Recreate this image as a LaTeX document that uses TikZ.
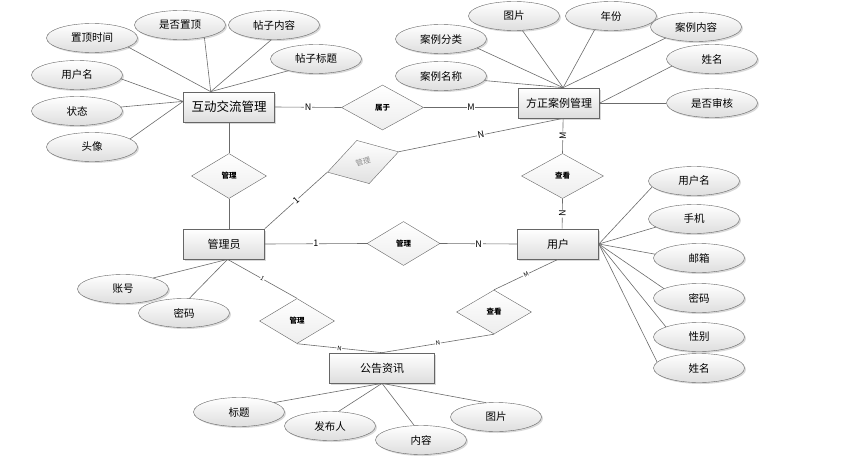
\documentclass[tikz,border=0pt]{standalone}
\usepackage{fontspec}
\newfontfamily\cjk{Noto Sans CJK SC}
\usetikzlibrary{shapes.geometric,shadows}

\begin{document}
\begin{tikzpicture}[x=1pt, y=-1pt,
    line/.style={draw=black!58, line width=0.6pt},
    shade/.style={top color=white, bottom color=black!13,
      drop shadow={opacity=0.3, shadow xshift=1.5pt, shadow yshift=-1.5pt}},
    attr/.style={ellipse, draw=black!60, shade, minimum width=91pt, minimum height=29pt,
      inner sep=0pt, font=\cjk\fontsize{10.5}{12}\selectfont},
    entity/.style={rectangle, draw=black!60, line width=0.7pt, shade, minimum width=81pt,
      minimum height=30pt, inner sep=0pt, font=\cjk\fontsize{11}{13}\selectfont},
    rel/.style={diamond, draw=black!60, top color=white, bottom color=black!7,
      minimum width=75pt, minimum height=45pt, inner sep=0pt,
      font=\cjk\bfseries\fontsize{7.5}{9}\selectfont},
    card/.style={fill=white, inner sep=0.6pt, font=\cjk\fontsize{9}{10}\selectfont},
    smallcard/.style={card, font=\cjk\fontsize{6}{7}\selectfont}
  ]
  \useasboundingbox (0,0) rectangle (861,460);

  % entities
  \node[entity, minimum width=91pt, font=\cjk\fontsize{12.5}{14}\selectfont] (hd) at (229,107) {互动交流管理};
  \node[entity] (fz) at (559,103) {方正案例管理};
  \node[entity] (gly) at (224,244) {管理员};
  \node[entity] (yh) at (558,244) {用户};
  \node[entity, minimum width=105pt] (gg) at (382,368) {公告资讯};

  % relations
  \node[rel, minimum width=82pt] (sy) at (382.5,107.5) {属于};
  \node[rel] (gl1) at (229,176) {管理};
  \node[rel, minimum width=74pt, rotate=16, text=black!45, font=\cjk\fontsize{7.5}{9}\selectfont,
    bottom color=black!12] (gl2) at (363,162) {管理};
  \node[rel, minimum width=73pt, minimum height=44pt] (gl3) at (403.5,243.5) {管理};
  \node[rel] (gl4) at (297,321) {管理};
  \node[rel, minimum width=82pt] (ck1) at (562.5,176) {查看};
  \node[rel, minimum height=44pt] (ck2) at (494,312) {查看};

  % attributes of 互动交流管理
  \node[attr] (zdsj) at (92,38) {置顶时间};
  \node[attr] (sfzd) at (180,25) {是否置顶};
  \node[attr] (tznr) at (274,25) {帖子内容};
  \node[attr] (tzbt) at (316,59) {帖子标题};
  \node[attr] (hdyhm) at (77,75) {用户名};
  \node[attr] (zt) at (77,111) {状态};
  \node[attr] (tx) at (92,147) {头像};
  \draw[line] (zdsj.-14) -- (hd.140);
  \draw[line] (sfzd.-27) -- (hd.140);
  \draw[line] (tznr.-100) -- (hd.140);
  \draw[line] (tzbt.-157) -- (hd.140);
  \draw[line] (hdyhm.-5) -- (hd.173);
  \draw[line] (zt) -- (hd.173);
  \draw[line] (tx.12) -- (hd.173);

  % attributes of 方正案例管理
  \node[attr] (tp1) at (514,16) {图片};
  \node[attr] (nf) at (611,16) {年份};
  \node[attr] (alnr) at (696,27) {案例内容};
  \node[attr] (alfl) at (441,39) {案例分类};
  \node[attr] (almc) at (441,76) {案例名称};
  \node[attr] (xm1) at (712,59) {姓名};
  \node[attr] (sfsh) at (712,103) {是否审核};
  \foreach \a/\ang in {tp1/-60, nf/-140, alnr/-160, alfl/-14, almc/-6}{
    \draw[line] (\a.\ang) -- (fz.75);
  }
  \draw[line] (xm1.-170) -- (fz.east);
  \draw[line] (sfsh.west) -- (fz.east);

  % attributes of 用户
  \foreach \a/\t/\px/\py/\ang in {yhm/用户名/694/181/-172, sj/手机/694/219/-168,
      yx/邮箱/699/258/175, mm/密码/699/298/165, xb/性别/699/337/163, xm2/姓名/699/368/172}{
    \node[attr] (\a) at (\px,\py) {\t};
    \draw[line] (\a.\ang) -- (yh.east);
  }

  % attributes of 管理员
  \node[attr] (zh) at (123,289) {账号};
  \node[attr] (glymm) at (184,313) {密码};
  \draw[line] (zh.20) -- (gly.-77);
  \draw[line] (glymm.70) -- (gly.-77);

  % attributes of 公告资讯
  \node[attr] (bt) at (239,412) {标题};
  \node[attr] (fbr) at (330,426) {发布人};
  \node[attr] (nr) at (421,440) {内容};
  \node[attr] (tp2) at (496,417) {图片};
  \draw[line] (bt.15) -- (gg.south);
  \draw[line] (fbr.60) -- (gg.south);
  \draw[line] (nr.115) -- (gg.south);
  \draw[line] (tp2.125) -- (gg.south);

  % relationships
  \draw[line] (hd.east) -- (sy.west) node[card, midway] {N};
  \draw[line] (sy.east) -- (fz.west |- sy.east) node[card, midway] {M};
  \draw[line] (hd.south) -- (gl1.north);
  \draw[line] (gl1.south) -- (gl1.south |- gly.north);
  \draw[line] (gly.north east) -- (gl2.west) node[card, midway, sloped] {1};
  \draw[line] (gl2.east) -- (fz.-75) node[card, midway, sloped] {N};
  \draw[line] (fz.-75) -- (ck1.north) node[card, midway, sloped] {M};
  \draw[line] (ck1.south) -- (yh.75) node[card, midway, sloped] {N};
  \draw[line] (gly.east) -- (gl3.west) node[card, midway] {1};
  \draw[line] (gl3.east) -- (yh.west) node[card, midway] {N};
  \draw[line] (gly.-77) -- (gl4.north) node[smallcard, midway, sloped] {1};
  \draw[line] (gl4.south) -- (gg.north) node[smallcard, midway, sloped] {N};
  \draw[line] (yh.south) -- (ck2.north) node[smallcard, midway, sloped] {M};
  \draw[line] (ck2.south) -- (gg.north) node[smallcard, midway, sloped] {N};
\end{tikzpicture}
\end{document}
